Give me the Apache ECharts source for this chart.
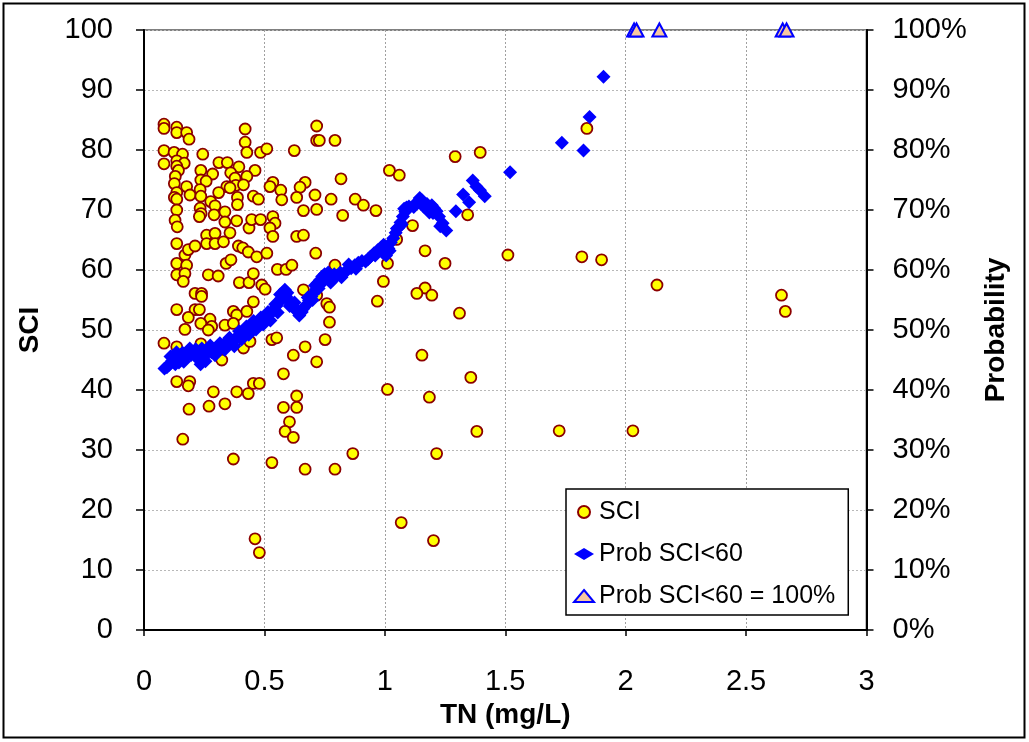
<!DOCTYPE html>
<html><head><meta charset="utf-8">
<script src="https://cdn.jsdelivr.net/npm/echarts@6/dist/echarts.min.js"></script>
<style>html,body{margin:0;padding:0;background:#fff}#c{width:1029px;height:742px}</style>
</head><body><div id="c"></div>
<script>
// X tick labels (TN, mg/L) and Y tick labels
const xTicks = [0, 0.5, 1, 1.5, 2, 2.5, 3];
const sciTicks = [0,10,20,30,40,50,60,70,80,90,100];
const probTicks = ['0%','10%','20%','30%','40%','50%','60%','70%','80%','90%','100%'];

// SCI observations: [TN, SCI]
const sciPoints = [
[0.083,84.3],[0.083,83.6],[0.136,83.8],[0.136,82.9],[0.177,82.9],[0.187,81.8],[0.42,83.5],[0.42,81.3],[0.427,79.6],[0.484,79.6],[0.51,80.2],[0.624,79.9],[0.717,84.0],[0.717,81.6],[0.083,79.9],[0.125,79.6],[0.16,79.3],[0.244,79.3],[0.083,77.7],[0.136,78.2],[0.167,77.8],[0.136,77.3],[0.143,76.6],[0.311,77.9],[0.346,77.9],[0.394,77.2],[0.236,76.6],[0.285,76.0],[0.36,76.2],[0.461,76.6],[0.13,75.6],[0.236,75.0],[0.258,74.8],[0.378,75.3],[0.427,75.6],[0.126,74.4],[0.344,73.9],[0.381,74.1],[0.413,74.2],[0.535,74.6],[0.523,73.9],[0.568,73.3],[0.669,74.6],[0.648,73.8],[0.136,72.9],[0.177,73.9],[0.191,72.5],[0.233,73.4],[0.236,72.3],[0.31,72.9],[0.357,73.7],[0.388,72.1],[0.454,72.3],[0.475,71.8],[0.572,71.7],[0.634,72.1],[0.71,72.5],[0.126,72.1],[0.136,71.8],[0.277,71.4],[0.295,70.7],[0.388,70.9],[0.233,70.3],[0.237,69.4],[0.23,68.9],[0.136,70.0],[0.129,68.3],[0.138,67.2],[0.291,69.2],[0.336,69.7],[0.336,68.0],[0.385,68.2],[0.436,67.0],[0.447,68.4],[0.484,68.4],[0.535,68.9],[0.544,67.8],[0.523,67.0],[0.535,65.6],[0.662,69.9],[0.717,70.1],[0.634,65.6],[0.662,65.8],[0.713,62.8],[0.136,64.4],[0.17,62.5],[0.184,63.4],[0.212,64.0],[0.26,65.8],[0.295,66.1],[0.26,64.4],[0.295,64.4],[0.33,64.7],[0.357,66.2],[0.392,64.0],[0.41,63.7],[0.433,63.0],[0.468,62.2],[0.51,62.8],[0.136,61.1],[0.177,60.8],[0.136,59.2],[0.17,59.4],[0.267,59.2],[0.308,59.0],[0.341,61.1],[0.361,61.7],[0.396,57.9],[0.436,57.9],[0.454,59.4],[0.489,57.5],[0.554,60.1],[0.59,60.1],[0.614,60.8],
[0.163,58.1],[0.212,56.1],[0.239,56.1],[0.239,55.6],[0.503,56.8],[0.454,54.7],[0.136,53.4],[0.212,53.4],[0.23,53.4],[0.184,52.1],[0.274,51.8],[0.236,51.1],[0.281,50.6],[0.267,50.0],[0.336,50.8],[0.371,53.1],[0.385,52.5],[0.371,51.1],[0.427,53.1],[0.17,50.1],[0.083,47.8],[0.136,47.2],[0.236,47.7],[0.323,45.0],[0.413,47.0],[0.44,48.1],[0.531,48.4],[0.551,48.7],[0.62,45.8],[0.669,47.2],[0.717,44.7],[0.579,42.7],[0.136,41.4],[0.19,41.4],[0.184,40.7],[0.288,39.7],[0.385,39.7],[0.433,39.4],[0.454,41.1],[0.479,41.1],[0.187,36.8],[0.27,37.3],[0.336,37.7],[0.579,37.1],[0.634,39.0],[0.634,37.1],[0.604,34.7],[0.586,33.1],[0.62,32.1],[0.161,31.8],[0.662,56.7],[0.717,55.8],
[0.371,28.5],[0.531,27.9],[0.669,26.8],[0.461,15.2],[0.479,12.9],
[0.728,81.6],[0.793,81.6],[1.292,78.9],[1.396,79.6],[1.019,76.6],[1.06,75.8],[0.818,75.2],[0.777,71.8],[0.877,71.8],[0.911,70.8],[0.963,69.9],[0.825,69.1],[1.115,67.4],[1.049,65.1],[1.167,63.2],[1.25,61.1],[0.793,60.8],[1.011,61.1],[0.994,58.1],[1.167,57.0],[1.344,69.2],
[0.969,54.8],[1.133,56.1],[1.195,55.8],[1.31,52.8],[0.759,54.4],[0.77,53.8],[0.77,51.3],[0.752,48.4],[1.154,45.8],[1.357,42.1],[1.011,40.1],[1.185,38.8],[1.382,33.1],[0.867,29.4],[1.215,29.4],
[0.793,26.8],[1.068,17.9],[1.202,14.9],
[1.839,83.6],[1.511,62.5],[1.818,62.2],[1.9,61.7],[2.13,57.5],[1.724,33.2],[2.03,33.2],[2.647,55.8],[2.663,53.1]
];

// Probability SCI<60 (%): [TN, prob]
const probPoints = [
[0.085,43.6],[0.095,43.8],[0.105,44.2],[0.115,44.8],[0.12,45.4],[0.13,44.3],[0.14,45.8],[0.145,44.6],[0.155,45.9],[0.16,46.2],[0.17,45.3],[0.175,46.0],[0.185,46.4],[0.195,45.8],[0.2,46.3],[0.21,46.0],[0.22,45.4],[0.23,44.9],[0.235,44.3],[0.245,45.2],[0.25,46.4],[0.26,46.0],[0.27,46.8],[0.28,46.3],[0.29,46.5],[0.3,47.0],[0.31,46.6],[0.32,47.2],[0.33,47.6],[0.34,47.4],[0.35,47.8],[0.36,48.3],[0.37,48.0],[0.38,48.6],[0.39,49.0],[0.4,49.3],[0.41,49.1],[0.42,49.8],[0.43,50.2],[0.44,49.9],[0.45,50.6],[0.46,51.0],[0.47,50.7],[0.48,51.3],[0.49,51.6],[0.5,51.9],[0.51,52.2],[0.52,52.5],[0.53,52.9],[0.54,53.5],[0.55,54.0],[0.56,54.6],[0.57,55.3],[0.575,56.2],[0.585,56.7],[0.59,55.6],[0.6,55.0],[0.61,54.3],[0.62,53.9],[0.63,53.3],[0.645,52.4],[0.655,53.0],[0.665,53.8],[0.675,54.2],[0.685,54.9],[0.695,55.6],[0.705,56.2],[0.715,56.8],[0.72,57.8],[0.73,58.3],[0.74,58.9],[0.75,59.3],[0.76,58.7],[0.775,57.9],[0.785,58.4],[0.8,59.0],[0.815,59.6],[0.83,59.5],[0.845,60.0],[0.86,60.3],[0.875,60.8],[0.89,61.2],[0.905,61.5],[0.92,61.4],[0.94,62.2],[0.955,62.8],[0.97,63.3],[0.985,63.8],[0.995,64.2],[1.005,62.4],[1.015,63.6],[1.025,64.6],[1.035,65.3],[1.045,66.2],[1.055,67.0],[1.065,67.9],[1.075,68.9],[1.085,69.7],[1.09,70.4],[1.1,70.6],[1.13,71.2],[1.145,72.0],[1.16,70.6],[1.175,71.0],[1.185,69.6],[1.195,70.8],[1.205,70.3],[1.215,69.8],[1.225,68.9],[1.24,67.8],[1.255,66.6],[1.295,69.8],[1.325,72.6],[1.35,71.3],[1.365,74.9],[1.38,73.9],[1.395,73.3],[1.415,72.3],[1.52,76.3],[1.735,81.2],[1.825,79.9],[1.85,85.5],[1.908,92.2],
[0.11,45.6],[0.135,46.3],[0.165,44.7],[0.19,46.9],[0.215,46.8],[0.24,46.9],[0.255,44.8],[0.275,47.4],[0.295,45.8],[0.315,47.8],[0.335,46.7],[0.355,48.7],[0.375,47.3],[0.395,49.8],[0.405,48.4],[0.425,50.6],[0.435,49.2],[0.455,51.5],[0.465,50.1],[0.485,52.1],[0.495,50.9],[0.515,53.0],[0.525,51.6],[0.545,54.3],[0.555,52.9],[0.565,55.9],[0.58,55.4],[0.595,56.2],[0.605,54.0],[0.625,54.6],[0.64,53.0],[0.66,53.5],[0.68,55.4],[0.7,55.0],[0.71,57.4],[0.725,56.9],[0.745,58.1],[0.765,59.6],[0.79,59.3],[0.82,58.8],[0.85,60.9],[0.88,60.2],[0.93,61.8],[0.96,62.4],[0.99,62.9],[1.02,63.2],[1.05,66.9],[1.07,67.6],[1.08,70.2],[1.12,70.5],[1.155,71.6],[1.18,70.3],[1.2,69.5],[1.23,67.3]
];

// Probability SCI<60 = 100%: [TN, prob]
const prob100Points = [[2.035,100],[2.045,100],[2.14,100],[2.652,100],[2.668,100]];

const font = 'Liberation Sans, Arial, sans-serif';
const chart = echarts.init(document.getElementById('c'), null, {renderer:'canvas'});
chart.setOption({
  animation:false,
  backgroundColor:'#fff',
  textStyle:{fontFamily:font},
  graphic:[{type:'rect', shape:{x:3.5,y:3.5,width:1021,height:734}, style:{fill:'none', stroke:'#000', lineWidth:2}, z:-1}],
  grid:{left:144, right:162.5, top:30, bottom:112, show:true, borderColor:'#808080', borderWidth:2, backgroundColor:'#fff'},
  legend:{
    orient:'vertical', left:566, top:489,
    backgroundColor:'#fff', borderColor:'#000', borderWidth:1.5,
    padding:[10,13,6,7], itemGap:16, itemWidth:20, itemHeight:12, symbolKeepAspect:true,
    textStyle:{fontFamily:font, fontSize:25, color:'#000', lineHeight:26},
    data:[{name:'SCI', icon:'circle'},{name:'Prob SCI<60', icon:'diamond'},{name:'Prob SCI<60 = 100%', icon:'triangle'}]
  },
  xAxis:{
    type:'value', min:0, max:3, interval:0.5,
    name:'TN (mg/L)', nameLocation:'middle', nameGap:70,
    nameTextStyle:{fontFamily:font, fontSize:28, fontWeight:'bold', color:'#000'},
    axisLine:{onZero:false, lineStyle:{color:'#000', width:2}},
    axisTick:{show:true, length:6, lineStyle:{color:'#000', width:1.5}},
    axisLabel:{fontFamily:font, fontSize:29, color:'#000', margin:37,
      formatter:function(v){ return xTicks.indexOf(v)>=0 ? String(v) : ''; }},
    splitLine:{show:true, lineStyle:{color:'#a0a0a0', type:[2,2], width:1}}
  },
  yAxis:[{
    type:'value', min:0, max:100, interval:10, position:'left',
    name:'SCI', nameLocation:'middle', nameGap:100, nameRotate:90,
    nameTextStyle:{fontFamily:font, fontSize:28, fontWeight:'bold', color:'#000'},
    axisLine:{show:true, onZero:false, lineStyle:{color:'#000', width:2}},
    axisTick:{show:true, length:8, lineStyle:{color:'#000', width:1.5}},
    axisLabel:{fontFamily:font, fontSize:29, color:'#000', margin:31,
      formatter:function(v){ return sciTicks.indexOf(v)>=0 ? String(v) : ''; }},
    splitLine:{show:true, lineStyle:{color:'#b8b8b8', type:[2,2], width:1}}
  },{
    type:'value', min:0, max:100, interval:10, position:'right',
    name:'Probability', nameLocation:'middle', nameGap:116, nameRotate:90,
    nameTextStyle:{fontFamily:font, fontSize:28, fontWeight:'bold', color:'#000'},
    axisLine:{show:true, onZero:false, lineStyle:{color:'#000', width:2}},
    axisTick:{show:true, length:7, lineStyle:{color:'#000', width:1.5}},
    axisLabel:{fontFamily:font, fontSize:29, color:'#000', margin:26,
      formatter:function(v){ return probTicks[Math.round(v/10)]; }},
    splitLine:{show:false}
  }],
  series:[
    {name:'SCI', type:'scatter', yAxisIndex:0, data:sciPoints, symbol:'circle', symbolSize:11,
     itemStyle:{color:'#FFFF00', borderColor:'#8B0000', borderWidth:1.8, opacity:1}, z:3},
    {name:'Prob SCI<60', type:'scatter', yAxisIndex:1, data:probPoints, symbol:'diamond', symbolSize:[14,14],
     itemStyle:{color:'#0000FF', opacity:1}, z:4},
    {name:'Prob SCI<60 = 100%', type:'scatter', yAxisIndex:1, data:prob100Points, symbol:'triangle', symbolSize:[14,13],
     itemStyle:{color:'#F8C8A0', borderColor:'#0000FF', borderWidth:2, opacity:1}, z:5, clip:false}
  ]
});
</script></body></html>
